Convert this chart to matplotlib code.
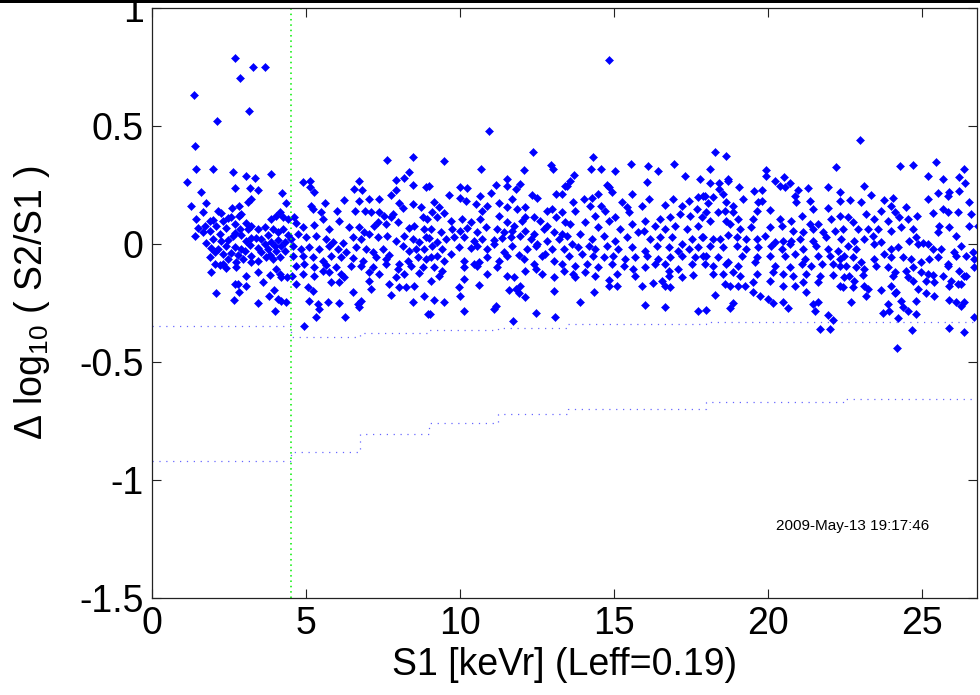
import numpy as np
import matplotlib
matplotlib.use("Agg")
import matplotlib.pyplot as plt
from matplotlib.ticker import FuncFormatter
from matplotlib.patches import Rectangle

plt.rcParams['font.family'] = ['Liberation Sans', 'DejaVu Sans']
plt.rcParams['mathtext.fontset'] = 'custom'
plt.rcParams['mathtext.rm'] = 'Liberation Sans'
plt.rcParams['mathtext.it'] = 'Liberation Sans:italic'
plt.rcParams['axes.unicode_minus'] = False

# energy bins (keVr) for the acceptance band edges
bin_edges = [0, 4.5, 6.75, 9.0, 11.25, 13.5, 18.0, 22.5, 27.0]
upper_edge = [-0.346, -0.393, -0.377, -0.363, -0.356, -0.339, -0.329, -0.329]
lower_edge = [-0.918, -0.880, -0.805, -0.757, -0.722, -0.699, -0.668, -0.657]
s1_cut = 4.5

# events (S1 [keVr], delta log10(S2/S1))
pts_0_45 = [
    (1.35, 0.63), (2.71, 0.788), (2.85, 0.705), (3.29, 0.751), (3.68, 0.751), (3.16, 0.563),
    (2.11, 0.52), (1.41, 0.415),
    (1.44, 0.318), (1.99, 0.318), (2.62, 0.304), (3.05, 0.29), (3.34, 0.278), (3.88, 0.298),
    (1.14, 0.261), (2.71, 0.236), (3.17, 0.239), (3.44, 0.227), (1.6, 0.219), (4.22, 0.215),
    (1.28, 0.16), (1.74, 0.174), (2.61, 0.151), (2.82, 0.162), (3.12, 0.176), (3.23, 0.191),
    (4.36, 0.172), (1.66, 0.137), (2.14, 0.14), (2.25, 0.131), (2.9, 0.127), (1.44, 0.106),
    (2.47, 0.109), (2.58, 0.113), (2.82, 0.12), (1.87, 0.099), (1.98, 0.102), (2.31, 0.096),
    (2.69, 0.085), (3.04, 0.089), (3.23, 0.075), (3.44, 0.063), (3.66, 0.071), (3.88, 0.106),
    (4.04, 0.12), (4.15, 0.134), (4.26, 0.116), (4.42, 0.106), (1.5, 0.066), (1.71, 0.078),
    (2.09, 0.075), (2.42, 0.066), (2.85, 0.063), (3.12, 0.063), (1.66, 0.049), (1.39, 0.032),
    (1.87, 0.056), (2.2, 0.042), (2.69, 0.045), (2.9, 0.038), (3.23, 0.024), (3.55, 0.021),
    (3.77, 0.038), (3.93, 0.063), (4.09, 0.049), (4.26, 0.063), (4.42, 0.038), (1.77, 0.004),
    (1.98, 0.021), (2.25, 0.014), (2.47, 0.018), (2.63, 0.032), (3.06, 0.014), (3.39, 0.024),
    (3.66, 0.0), (3.88, 0.007), (4.09, 0.018), (4.31, 0.007), (1.93, -0.018), (2.14, -0.021),
    (2.42, -0.01), (2.69, -0.014), (2.9, -0.021), (3.17, -0.004), (3.44, -0.016), (3.77, -0.021),
    (3.98, -0.01), (4.2, -0.007), (1.87, -0.057), (2.04, -0.035), (2.31, -0.042), (2.58, -0.038),
    (2.79, -0.047), (3.01, -0.028), (3.23, -0.049), (3.55, -0.035), (3.82, -0.047), (4.04, -0.028),
    (4.31, -0.028), (2.04, -0.085), (2.2, -0.089), (2.31, -0.085), (2.47, -0.064), (2.74, -0.078),
    (2.96, -0.064), (3.23, -0.075), (3.44, -0.071), (3.71, -0.057), (3.93, -0.064), (4.15, -0.057),
    (1.93, -0.12), (2.42, -0.103), (2.74, -0.099), (3.06, -0.134), (3.44, -0.12), (3.61, -0.16),
    (3.82, -0.13), (4.04, -0.106), (4.15, -0.127), (4.2, -0.141), (4.4, -0.138), (2.69, -0.17),
    (2.79, -0.17), (3.05, -0.177), (2.07, -0.209), (2.82, -0.205), (3.8, -0.219), (3.95, -0.194),
    (2.66, -0.236), (3.44, -0.251), (4.09, -0.233), (4.2, -0.24), (3.98, -0.284), (4.36, -0.247),
]

pts_45_9 = [
    (7.63, 0.356), (8.49, 0.367), (4.89, 0.261), (5.13, 0.268), (5.13, 0.24), (5.27, 0.219),
    (6.73, 0.265), (6.55, 0.233), (6.81, 0.23), (7.92, 0.271), (7.92, 0.23), (7.76, 0.208),
    (8.2, 0.278), (8.36, 0.304), (8.49, 0.251), (5.63, 0.172), (6.23, 0.188), (6.71, 0.181),
    (7.06, 0.191), (7.36, 0.191), (8.03, 0.174), (8.47, 0.17), (8.74, 0.155), (8.9, 0.24),
    (5.16, 0.16), (5.24, 0.148), (5.49, 0.137), (6.01, 0.138), (6.59, 0.141), (6.93, 0.14),
    (7.11, 0.137), (7.38, 0.134), (7.55, 0.12), (7.82, 0.127), (8.14, 0.151), (4.62, 0.113),
    (4.68, 0.089), (4.89, 0.071), (5.27, 0.08), (5.54, 0.106), (5.76, 0.063), (6.08, 0.099),
    (6.41, 0.071), (6.73, 0.071), (6.9, 0.052), (7.22, 0.078), (7.33, 0.092), (7.6, 0.085),
    (7.76, 0.113), (7.98, 0.092), (8.36, 0.066), (8.52, 0.078), (8.79, 0.113), (8.84, 0.063),
    (4.52, 0.021), (4.73, 0.042), (5.0, 0.028), (5.33, 0.035), (5.65, 0.021), (5.87, 0.007),
    (6.19, 0.004), (6.52, 0.028), (6.79, 0.021), (7.06, 0.042), (7.33, 0.028), (7.65, 0.032),
    (7.92, 0.014), (8.2, 0.032), (8.47, 0.021), (8.68, 0.007), (8.9, 0.028), (4.57, -0.007),
    (4.84, -0.021), (5.11, -0.014), (5.44, -0.021), (5.76, -0.007), (6.03, -0.021), (6.3, -0.035),
    (6.63, -0.014), (6.95, -0.021), (7.17, -0.035), (7.49, -0.021), (7.71, -0.047), (8.14, -0.007),
    (8.36, -0.028), (8.57, -0.021), (8.84, -0.021), (4.59, -0.049), (4.89, -0.049), (5.22, -0.057),
    (5.54, -0.071), (5.81, -0.049), (6.14, -0.057), (6.52, -0.061), (6.84, -0.071), (7.28, -0.057),
    (7.6, -0.064), (8.03, -0.085), (8.3, -0.071), (8.63, -0.057), (8.9, -0.064), (4.68, -0.092),
    (4.95, -0.085), (5.27, -0.099), (5.65, -0.089), (5.98, -0.099), (6.46, -0.092), (6.79, -0.095),
    (7.17, -0.099), (7.6, -0.085), (7.98, -0.106), (8.41, -0.092), (8.79, -0.099), (4.55, -0.134),
    (4.89, -0.127), (5.27, -0.134), (5.54, -0.113), (5.76, -0.117), (6.14, -0.127), (6.25, -0.141),
    (7.06, -0.12), (7.38, -0.127), (7.92, -0.141), (8.2, -0.127), (8.68, -0.123), (4.68, -0.17),
    (5.06, -0.184), (5.22, -0.198), (5.81, -0.162), (6.08, -0.16), (7.06, -0.155), (7.11, -0.191),
    (7.71, -0.17), (8.03, -0.184), (8.25, -0.184), (8.52, -0.177), (5.11, -0.24), (5.38, -0.254),
    (5.71, -0.247), (6.06, -0.251), (6.52, -0.205), (6.68, -0.254), (6.79, -0.24), (7.76, -0.216),
    (8.47, -0.247), (8.84, -0.219), (5.44, -0.275), (5.33, -0.308), (6.28, -0.308), (6.73, -0.268),
    (4.93, -0.346), (8.95, -0.297),
]

pts_9_135 = [
    (10.95, 0.478), (12.38, 0.391), (9.48, 0.35), (10.7, 0.318), (12.97, 0.335), (13.03, 0.318),
    (12.1, 0.314), (9.0, 0.247), (10.02, 0.24), (10.24, 0.236), (11.54, 0.275), (11.18, 0.25),
    (11.52, 0.244), (11.81, 0.233), (11.97, 0.254), (9.65, 0.209), (10.02, 0.195), (10.19, 0.184),
    (10.67, 0.205), (11.0, 0.215), (11.7, 0.191), (12.35, 0.208), (12.51, 0.193), (13.11, 0.212),
    (13.32, 0.212), (13.43, 0.247), (9.16, 0.176), (9.32, 0.155), (9.1, 0.134), (9.48, 0.131),
    (10.51, 0.169), (10.73, 0.141), (10.89, 0.162), (11.27, 0.172), (11.54, 0.155), (11.86, 0.148),
    (12.13, 0.155), (12.13, 0.113), (12.84, 0.141), (13.0, 0.148), (13.32, 0.134), (8.94, 0.106),
    (9.27, 0.113), (9.7, 0.099), (10.08, 0.106), (10.35, 0.092), (10.67, 0.106), (11.27, 0.12),
    (11.54, 0.092), (11.76, 0.078), (12.03, 0.099), (12.41, 0.113), (12.62, 0.099), (12.84, 0.078),
    (13.11, 0.113), (13.43, 0.092), (9.05, 0.063), (9.38, 0.052), (9.75, 0.063), (10.02, 0.056),
    (10.24, 0.066), (10.57, 0.049), (10.84, 0.071), (11.21, 0.063), (11.43, 0.049), (11.7, 0.056),
    (12.13, 0.056), (12.41, 0.042), (12.73, 0.063), (13.05, 0.049), (13.32, 0.042), (9.0, 0.024),
    (9.27, 0.007), (9.54, 0.021), (9.81, 0.028), (10.13, 0.028), (10.46, 0.014), (10.73, 0.021),
    (11.11, 0.018), (11.38, 0.024), (11.65, 0.028), (11.97, 0.032), (12.3, 0.021), (12.51, 0.0),
    (12.84, 0.014), (13.22, 0.021), (9.1, -0.007), (9.43, -0.021), (9.7, -0.042), (9.97, -0.014),
    (10.35, -0.018), (10.57, -0.007), (10.89, -0.021), (11.11, 0.0), (11.43, -0.035), (11.7, -0.007),
    (11.92, -0.047), (12.19, -0.021), (12.46, -0.007), (12.78, -0.042), (13.0, -0.021), (13.38, -0.021),
    (9.05, -0.057), (9.27, -0.049), (9.48, -0.071), (10.13, -0.071), (10.46, -0.085), (10.62, -0.078),
    (10.89, -0.057), (11.27, -0.071), (11.54, -0.049), (12.08, -0.064), (12.41, -0.085), (12.68, -0.049),
    (13.05, -0.071), (13.32, -0.085), (9.16, -0.099), (9.43, -0.113), (10.13, -0.099), (10.57, -0.092),
    (10.89, -0.127), (11.21, -0.099), (11.54, -0.134), (11.76, -0.141), (12.13, -0.113), (12.46, -0.106),
    (12.68, -0.127), (13.05, -0.141), (13.38, -0.113), (9.05, -0.155), (9.32, -0.137), (9.97, -0.184),
    (10.13, -0.148), (10.62, -0.172), (11.59, -0.194), (11.81, -0.191), (11.97, -0.177), (11.92, -0.208),
    (12.13, -0.226), (13.05, -0.198), (10.02, -0.219), (9.16, -0.236), (9.48, -0.247), (11.11, -0.275),
    (11.16, -0.264), (10.13, -0.282), (9.03, -0.297), (12.46, -0.294), (13.09, -0.308), (11.72, -0.325),
]

pts_135_18 = [
    (14.85, 0.78), (14.31, 0.367), (14.26, 0.318), (14.58, 0.318), (15.05, 0.308), (15.56, 0.339),
    (16.11, 0.329), (16.45, 0.308), (16.96, 0.339), (17.32, 0.287), (17.8, 0.275), (13.72, 0.294),
    (13.58, 0.268), (13.48, 0.247), (16.07, 0.261), (14.77, 0.251), (14.83, 0.24), (14.94, 0.219),
    (15.59, 0.212), (16.13, 0.191), (14.5, 0.212), (14.29, 0.193), (14.02, 0.191), (13.69, 0.18),
    (14.23, 0.162), (14.59, 0.16), (14.72, 0.141), (15.26, 0.176), (15.42, 0.155), (15.91, 0.162),
    (16.67, 0.165), (16.94, 0.191), (17.21, 0.162), (17.43, 0.181), (17.75, 0.198), (17.91, 0.205),
    (13.75, 0.141), (14.4, 0.12), (15.05, 0.113), (15.48, 0.134), (16.02, 0.099), (16.51, 0.106),
    (16.83, 0.113), (17.16, 0.127), (17.48, 0.12), (17.7, 0.148), (17.86, 0.113), (13.58, 0.085),
    (14.07, 0.092), (14.5, 0.071), (14.83, 0.099), (15.21, 0.063), (15.59, 0.085), (15.97, 0.056),
    (16.34, 0.078), (16.67, 0.063), (16.99, 0.078), (17.37, 0.063), (17.75, 0.078), (13.48, 0.035),
    (13.91, 0.042), (14.29, 0.021), (14.67, 0.035), (15.05, 0.014), (15.42, 0.028), (15.8, 0.049),
    (16.18, 0.021), (16.51, 0.028), (16.89, 0.028), (17.21, 0.0), (17.53, 0.021), (17.86, 0.028),
    (13.64, 0.0), (13.85, -0.014), (14.18, -0.007), (14.4, -0.021), (14.77, -0.007), (15.15, -0.021),
    (15.59, -0.014), (16.02, -0.028), (16.4, -0.007), (16.78, -0.014), (17.1, -0.028), (17.43, -0.021),
    (17.75, -0.014), (13.53, -0.049), (13.96, -0.042), (14.34, -0.049), (14.67, -0.057), (14.99, -0.049),
    (15.37, -0.064), (15.69, -0.057), (16.07, -0.049), (16.45, -0.064), (16.83, -0.057), (17.21, -0.049),
    (17.64, -0.057), (17.91, -0.049), (13.75, -0.092), (14.13, -0.085), (14.5, -0.099), (14.94, -0.085),
    (15.32, -0.092), (15.64, -0.106), (16.02, -0.099), (16.34, -0.085), (16.67, -0.085), (16.78, -0.113),
    (17.1, -0.106), (17.53, -0.085), (13.69, -0.127), (14.07, -0.12), (14.4, -0.134), (15.1, -0.127),
    (15.69, -0.134), (15.91, -0.177), (16.29, -0.165), (16.78, -0.134), (17.21, -0.141), (17.59, -0.131),
    (13.75, -0.141), (14.83, -0.151), (14.83, -0.177), (15.1, -0.177), (16.56, -0.155), (16.67, -0.177),
    (16.83, -0.184), (14.37, -0.205), (13.91, -0.247), (16.02, -0.257), (16.67, -0.266), (17.75, -0.284),
]

pts_18_225 = [
    (22.99, 0.442), (18.3, 0.388), (18.66, 0.371), (18.12, 0.318), (19.96, 0.315), (19.96, 0.287),
    (20.52, 0.282), (20.23, 0.265), (20.39, 0.247), (20.55, 0.243), (20.72, 0.257), (22.23, 0.325),
    (18.14, 0.257), (18.42, 0.257), (18.42, 0.233), (19.07, 0.24), (18.72, 0.275), (18.72, 0.265),
    (17.96, 0.205), (18.23, 0.198), (18.55, 0.212), (18.66, 0.176), (18.07, 0.174), (19.2, 0.191),
    (19.55, 0.223), (19.83, 0.23), (19.8, 0.184), (19.69, 0.176), (20.07, 0.145), (20.99, 0.23),
    (21.31, 0.236), (20.88, 0.205), (20.93, 0.176), (21.96, 0.24), (22.34, 0.219), (22.34, 0.184),
    (21.37, 0.184), (21.48, 0.148), (21.96, 0.151), (18.01, 0.134), (18.12, 0.099), (18.39, 0.134),
    (18.61, 0.141), (18.88, 0.162), (18.88, 0.134), (19.64, 0.141), (20.39, 0.106), (20.77, 0.099),
    (21.1, 0.12), (21.37, 0.085), (21.64, 0.085), (22.07, 0.106), (22.34, 0.12), (18.66, 0.099),
    (18.77, 0.085), (19.04, 0.106), (19.09, 0.063), (19.53, 0.106), (19.47, 0.071), (20.07, 0.071),
    (20.45, 0.078), (20.83, 0.056), (21.15, 0.049), (21.48, 0.063), (21.8, 0.049), (22.18, 0.056),
    (17.9, 0.028), (18.23, 0.021), (18.45, 0.021), (18.72, 0.038), (18.99, 0.028), (19.31, 0.021),
    (19.64, 0.021), (19.91, 0.035), (20.23, 0.007), (20.5, 0.014), (20.77, 0.014), (21.04, 0.021),
    (21.48, 0.014), (21.91, 0.028), (22.39, 0.021), (18.12, -0.007), (18.55, -0.014), (18.99, -0.007),
    (19.31, -0.021), (19.69, -0.014), (20.12, -0.007), (20.45, -0.021), (20.72, 0.0), (21.15, -0.021),
    (21.58, -0.007), (21.96, -0.021), (22.29, -0.028), (18.01, -0.049), (18.39, -0.057), (18.72, -0.078),
    (19.15, -0.049), (19.64, -0.057), (20.07, -0.049), (20.55, -0.049), (20.88, -0.042), (21.2, -0.064),
    (21.64, -0.049), (22.02, -0.049), (22.34, -0.064), (17.96, -0.085), (18.23, -0.092), (18.66, -0.085),
    (19.04, -0.092), (19.58, -0.078), (20.23, -0.092), (20.72, -0.099), (21.1, -0.085), (21.42, -0.092),
    (21.75, -0.085), (22.12, -0.085), (22.34, -0.092), (18.23, -0.127), (18.55, -0.127), (18.88, -0.12),
    (19.09, -0.134), (19.64, -0.127), (20.18, -0.12), (20.5, -0.127), (20.83, -0.134), (21.26, -0.127),
    (21.69, -0.134), (22.12, -0.131), (18.61, -0.17), (18.77, -0.177), (19.04, -0.177), (19.26, -0.177),
    (19.53, -0.162), (20.07, -0.155), (20.5, -0.177), (20.88, -0.177), (21.15, -0.162), (21.64, -0.162),
    (22.34, -0.177), (18.28, -0.215), (19.53, -0.205), (19.74, -0.219), (20.01, -0.233), (20.18, -0.251),
    (20.5, -0.247), (20.66, -0.273), (21.26, -0.205), (21.48, -0.254), (21.64, -0.247), (21.53, -0.283),
    (18.88, -0.251), (18.77, -0.273), (18.01, -0.278), (21.96, -0.301), (22.12, -0.321), (21.69, -0.36),
    (22.02, -0.36),
]

pts_225_27 = [
    (24.3, 0.329), (24.71, 0.335), (25.47, 0.346), (25.2, 0.287), (25.71, 0.275), (26.23, 0.282),
    (26.37, 0.318), (26.41, 0.257), (26.23, 0.226), (25.9, 0.219), (25.85, 0.205), (25.2, 0.191),
    (25.52, 0.215), (23.14, 0.247), (23.36, 0.209), (22.69, 0.188), (23.03, 0.176), (23.79, 0.188),
    (24.06, 0.193), (24.49, 0.155), (24.01, 0.162), (24.12, 0.134), (24.28, 0.113), (24.55, 0.106),
    (24.85, 0.117), (25.36, 0.13), (25.68, 0.148), (25.85, 0.134), (26.17, 0.137), (26.55, 0.176),
    (26.6, 0.127), (26.82, 0.078), (22.6, 0.113), (22.76, 0.095), (23.2, 0.127), (23.47, 0.106),
    (23.68, 0.141), (23.9, 0.099), (24.01, 0.056), (24.33, 0.071), (24.71, 0.063), (24.82, 0.028),
    (25.03, 0.004), (25.52, 0.049), (25.58, 0.078), (25.9, 0.071), (26.12, 0.035), (26.55, 0.078),
    (22.44, 0.063), (22.92, 0.063), (23.25, 0.063), (23.57, 0.063), (23.41, 0.035), (22.82, 0.014),
    (23.14, 0.021), (22.6, -0.007), (22.87, -0.021), (23.47, 0.0), (23.68, 0.007), (24.01, -0.021),
    (24.22, -0.014), (24.6, 0.014), (24.87, 0.0), (25.2, 0.0), (25.36, -0.021), (25.63, -0.021),
    (26.06, -0.035), (26.28, -0.007), (26.66, -0.035), (22.49, -0.049), (22.76, -0.057), (23.03, -0.078),
    (23.47, -0.064), (23.79, -0.042), (24.01, -0.057), (24.39, -0.057), (24.66, -0.064), (24.98, -0.078),
    (25.25, -0.064), (25.52, -0.057), (25.85, -0.085), (26.12, -0.049), (26.44, -0.049), (26.71, -0.064),
    (22.55, -0.092), (22.87, -0.099), (23.14, -0.106), (23.52, -0.092), (23.9, -0.099), (24.12, -0.12),
    (24.49, -0.113), (24.71, -0.099), (24.98, -0.12), (25.2, -0.127), (25.36, -0.131), (25.85, -0.092),
    (26.23, -0.113), (26.44, -0.134), (26.71, -0.099), (22.49, -0.141), (22.65, -0.134), (22.82, -0.155),
    (23.09, -0.131), (24.06, -0.134), (24.55, -0.141), (24.71, -0.155), (25.14, -0.155), (25.41, -0.162),
    (25.68, -0.134), (25.95, -0.155), (26.17, -0.17), (26.39, -0.134), (22.44, -0.184), (22.76, -0.184),
    (23.14, -0.177), (23.25, -0.191), (23.68, -0.194), (24.01, -0.177), (24.17, -0.205), (24.87, -0.191),
    (25.14, -0.208), (25.41, -0.219), (25.9, -0.177), (26.28, -0.17), (22.71, -0.247), (23.2, -0.219),
    (23.9, -0.254), (24.12, -0.208), (24.33, -0.24), (24.39, -0.268), (24.55, -0.282), (24.82, -0.297),
    (23.74, -0.292), (23.95, -0.282), (24.22, -0.315), (24.82, -0.24), (25.9, -0.236), (26.12, -0.247),
    (26.28, -0.261), (26.39, -0.247), (26.71, -0.311), (24.68, -0.363), (25.9, -0.357), (26.37, -0.371),
    (24.2, -0.442),
]

events = np.array(pts_0_45 + pts_45_9 + pts_9_135 + pts_135_18 + pts_18_225 + pts_225_27)

fig = plt.figure(figsize=(9.8, 6.95), dpi=100)
ax = fig.add_axes([152 / 980, 1 - 598 / 695, 825 / 980, 590 / 695])

ax.plot(events[:, 0], events[:, 1], 'D', color='#0000ff', markersize=3.7,
        markeredgewidth=0.4, linestyle='none')

ax.plot(bin_edges, upper_edge + [upper_edge[-1]], drawstyle='steps-post',
        color='#0000ff', lw=0.9, linestyle=(0, (1, 4.5)), alpha=0.6)
ax.plot(bin_edges, lower_edge + [lower_edge[-1]], drawstyle='steps-post',
        color='#0000ff', lw=0.9, linestyle=(0, (1, 4.5)), alpha=0.6)
ax.axvline(s1_cut, color='#00ee00', lw=1.1, linestyle=(0, (1, 2.5)))

ax.set_xlim(0, 26.8)
ax.set_ylim(-1.5, 1)
ax.set_xticks([0, 5, 10, 15, 20, 25])
ax.set_yticks([-1.5, -1, -0.5, 0, 0.5, 1])
ax.xaxis.set_major_formatter(FuncFormatter(lambda v, p: '%g' % v))
ax.yaxis.set_major_formatter(FuncFormatter(lambda v, p: '%g' % v))
ax.tick_params(direction='in', length=6.5, width=0.8, top=True, right=True,
               labelsize=27, pad=6, color='#222222')
for s in ax.spines.values():
    s.set_linewidth(0.9)
    s.set_color('#222222')

ax.set_xlabel('S1 [keVr] (Leff=0.19)', fontsize=27, va='center')
ax.xaxis.set_label_coords(0.5, -0.114)
ax.set_ylabel('Δ log$_{10}$ ( S2/S1 )', fontsize=27, va='center')
ax.yaxis.set_label_coords(-0.1455, 0.5)

ax.text(22.76, -1.212, '2009-May-13 19:17:46', fontsize=11, ha='center', va='baseline')

fig.add_artist(Rectangle((0, 1 - 2.5 / 695), 1, 2.5 / 695, transform=fig.transFigure,
                         color='black', lw=0))

fig.savefig('out.png', dpi=100, facecolor='white')
